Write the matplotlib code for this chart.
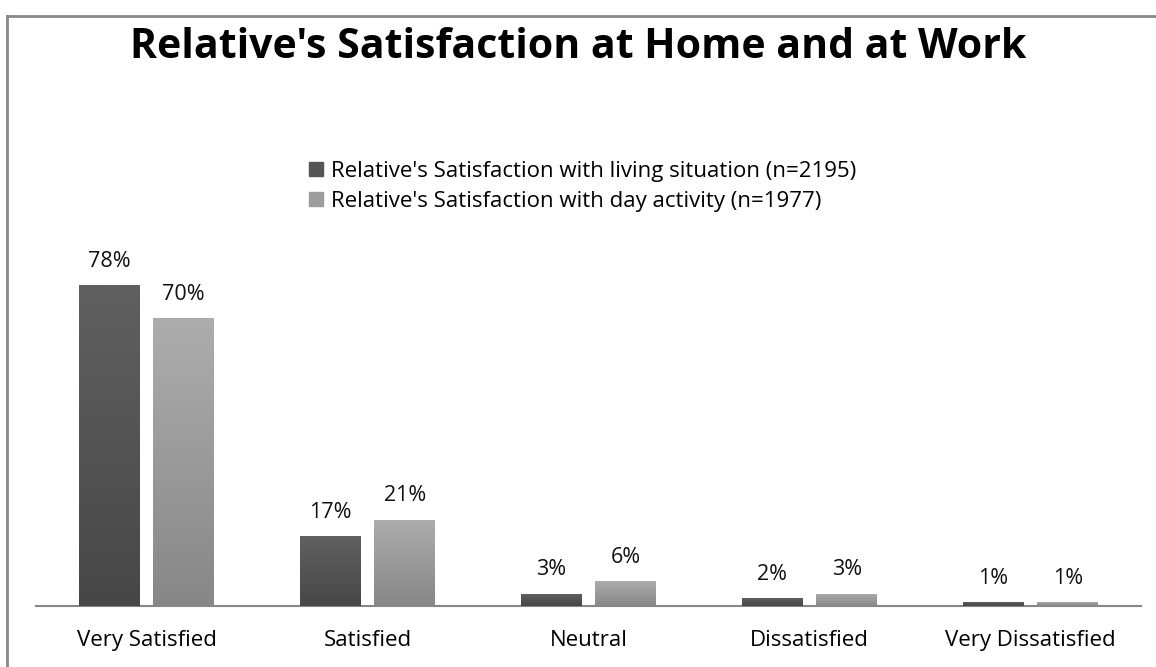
import numpy as np
import matplotlib.pyplot as plt
from matplotlib.lines import Line2D
from matplotlib.patches import Patch
from matplotlib.colors import LinearSegmentedColormap

categories = ["Very Satisfied", "Satisfied", "Neutral", "Dissatisfied", "Very Dissatisfied"]
living = [78, 17, 3, 2, 1]
day_activity = [70, 21, 6, 3, 1]
series_labels = ["Relative's Satisfaction with living situation (n=2195)",
                 "Relative's Satisfaction with day activity (n=1977)"]

plt.rcParams['font.family'] = ['Open Sans', 'DejaVu Sans']

W, H = 1156, 667
fig = plt.figure(figsize=(W / 100, H / 100), dpi=100)

# axes box in pixel coords: x 36..1141, baseline at y=606
top_px = 606 - 86 * 4.115
ax = fig.add_axes([36 / W, (H - 606) / H, (1141 - 36) / W, (606 - top_px) / H])
ax.set_ylim(0, 86)
ax.set_xlim(-0.5, len(categories) - 0.5)

x = np.arange(len(categories))
bw = 0.273
off = 0.168
dark = LinearSegmentedColormap.from_list("dark", ["#474747", "#606060"])
light = LinearSegmentedColormap.from_list("light", ["#878787", "#adadad"])


def gradient_bars(xpos, vals, cmap, base_color):
    bars = ax.bar(xpos, vals, bw, color=base_color, zorder=2)
    grad = np.linspace(0, 1, 256).reshape(-1, 1)
    for b in bars:
        x0, y0 = b.get_x(), b.get_y()
        im = ax.imshow(grad, cmap=cmap, origin="lower", aspect="auto",
                       extent=[x0, x0 + b.get_width(), y0, y0 + b.get_height()],
                       zorder=3)
        im.set_clip_path(b)
    ax.set_xlim(-0.5, len(categories) - 0.5)
    ax.set_ylim(0, 86)
    for xi, v in zip(xpos, vals):
        ax.text(xi, v + 3.2, f"{v}%", ha="center", va="bottom", fontsize=15.5, color="#111111")
    return bars


gradient_bars(x - off, living, dark, "#535353")
gradient_bars(x + off, day_activity, light, "#9a9a9a")

for s in ["top", "right", "left"]:
    ax.spines[s].set_visible(False)
ax.spines["bottom"].set_color("#868686")
ax.spines["bottom"].set_linewidth(1.5)
ax.set_yticks([])
ax.set_xticks(x)
ax.set_xticklabels(categories, fontsize=16)
ax.tick_params(axis="x", length=0, pad=17)

fig.text(578 / W, 1 - 47 / H, "Relative's Satisfaction at Home and at Work",
         ha="center", va="center", fontsize=29.5, fontweight="bold")

handles = [Patch(color="#555555"), Patch(color="#9c9c9c")]
fig.legend(handles, series_labels, loc="upper left", bbox_to_anchor=(300 / W, 1 - 152 / H),
           frameon=False, fontsize=16, handlelength=0.65, handleheight=0.65,
           handletextpad=0.35, labelspacing=0.4, borderaxespad=0)

# chart frame (left and top edges)
fig.add_artist(Line2D([7 / W, 7 / W], [0, 1 - 16 / H], transform=fig.transFigure, color="#888888", lw=2))
fig.add_artist(Line2D([7 / W, 1], [1 - 16 / H, 1 - 16 / H], transform=fig.transFigure, color="#888888", lw=2))

fig.savefig("out.png", dpi=100)
